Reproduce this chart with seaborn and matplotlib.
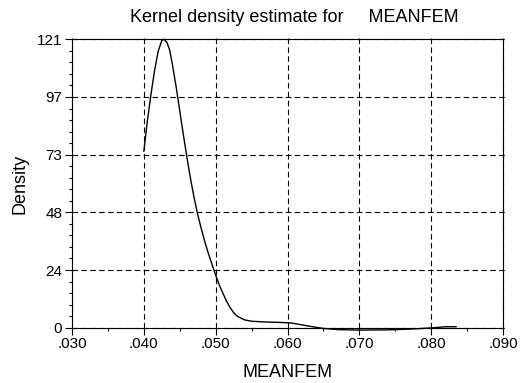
import matplotlib
matplotlib.use("Agg")
import matplotlib.pyplot as plt
import seaborn as sns
import numpy as np
import pandas as pd
from matplotlib.ticker import MultipleLocator, FuncFormatter, FixedLocator

# --- data ---
meanfem = [0.0400, 0.0405, 0.0410, 0.0415, 0.0420, 0.0425, 0.0428, 0.0432,
           0.0436, 0.0440, 0.0445, 0.0450, 0.0455, 0.0460, 0.0465, 0.0470,
           0.0475, 0.0480, 0.0485, 0.0490, 0.0495, 0.0500, 0.0505, 0.0510,
           0.0515, 0.0520, 0.0525, 0.0530, 0.0540, 0.0550, 0.0570, 0.0590,
           0.0605, 0.0620, 0.0635, 0.0650, 0.0670, 0.0700, 0.0740, 0.0770,
           0.0800, 0.0820, 0.0835]
density = [74.0, 87.0, 98.0, 108.0, 116.0, 120.5, 121.0, 119.8,
           116.5, 110.0, 101.0, 91.0, 81.0, 71.5, 62.5, 54.5,
           47.5, 41.5, 36.0, 31.0, 26.5, 22.0, 18.0, 14.5,
           11.2, 8.5, 6.3, 4.8, 3.3, 2.7, 2.4, 2.2,
           2.0, 1.2, 0.4, -0.3, -0.8, -1.0, -0.9, -0.6,
           -0.1, 0.4, 0.4]
x_ticks = [0.030, 0.040, 0.050, 0.060, 0.070, 0.080, 0.090]
y_ticks = [0, 24.2, 48.4, 72.6, 96.8, 121.0]
y_tick_labels = ["0", "24", "48", "73", "97", "121"]
title = "Kernel density estimate for     MEANFEM"
xlabel = "MEANFEM"
ylabel = "Density"

df = pd.DataFrame({"x": meanfem, "y": density})

sns.set_style("white")
plt.rcParams["font.family"] = ["Liberation Sans", "DejaVu Sans"]

fig = plt.figure(figsize=(5.28, 3.83), dpi=100)
ax = fig.add_axes([72/528, 1 - 327.7/383, (503-72)/528, (327.7-39.3)/383])

sns.lineplot(data=df, x="x", y="y", ax=ax, color="black", linewidth=1.0)
for ln in ax.lines:
    ln.set_clip_on(False)

ax.set_xlim(0.030, 0.090)
ax.set_ylim(0, 121.0)

ax.xaxis.set_major_locator(FixedLocator(x_ticks))
ax.xaxis.set_minor_locator(MultipleLocator(0.005))
ax.xaxis.set_major_formatter(FuncFormatter(lambda v, p: ("%.3f" % v)[1:]))
ax.yaxis.set_major_locator(FixedLocator(y_ticks))
ax.set_yticklabels(y_tick_labels)
ax.yaxis.set_minor_locator(MultipleLocator(4.84))

ax.tick_params(axis="both", which="major", direction="out", length=5, width=0.8,
               labelsize=11, color="black", labelcolor="black", pad=2)
ax.tick_params(axis="both", which="minor", direction="out", length=2.5, width=0.8,
               color="black")
ax.tick_params(axis="x", which="both", bottom=True, top=False)
ax.tick_params(axis="y", which="both", left=True, right=False)

for s in ax.spines.values():
    s.set_visible(True)
    s.set_color("black")
    s.set_linewidth(0.8)

ax.grid(True, which="major", color="black", linestyle=(0, (5, 3)), linewidth=0.8)
for gl in ax.xaxis.get_gridlines():
    gl.set_clip_on(False)
    gl.set_ydata([0, 1.015])
for gl in ax.yaxis.get_gridlines():
    gl.set_clip_on(False)
    gl.set_xdata([0, 1.006])

ax.set_xlabel(xlabel, fontsize=13, labelpad=9, color="black")
ax.set_ylabel(ylabel, fontsize=13, labelpad=6, color="black")
fig.text(294/528, 1 - 18/383, title, fontsize=13, ha="center", va="center", color="black")

fig.savefig("out.png", dpi=100)
